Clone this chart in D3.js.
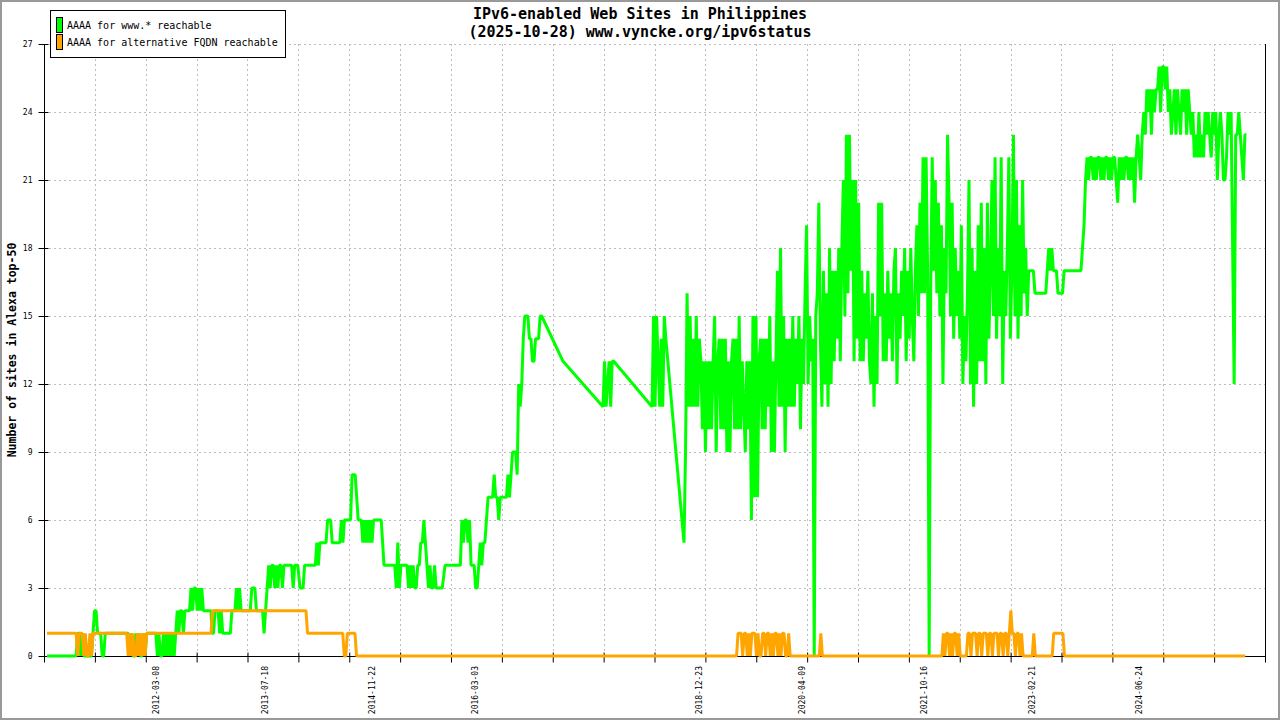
<!DOCTYPE html>
<html><head><meta charset="utf-8">
<script src="https://cdn.jsdelivr.net/npm/d3@7"></script>
<style>body{margin:0;background:#fff}svg{display:block}</style>
</head><body>
<svg id="chart" width="1280" height="720"></svg>
<script>
// ---------------- data ----------------
const titleLines = ["IPv6-enabled Web Sites in Philippines", "(2025-10-28) www.vyncke.org/ipv6status"];
const yAxisTitle = "Number of sites in Alexa top-50";
const seriesNames = ["AAAA for www.* reachable", "AAAA for alternative FQDN reachable"];
const seriesColors = ["#00ff00", "#ffa500"];
const yTicks = [0, 3, 6, 9, 12, 15, 18, 21, 24, 27];
const xDateLabels = ["2012-03-08", "2013-07-18", "2014-11-22", "2016-03-03", "2018-12-23", "2020-04-09", "2021-10-16", "2023-02-21", "2024-06-24"];
const xDomain = [2010.782, 2026.054];   // decimal years
const xTickCount = 25;
const weekStep = 7 / 365.25;            // samples read at weekly spacing

// green: AAAA for www.* reachable  (start = decimal year, values weekly, "v*n" = n weeks at v)
const greenSegments = [
  {start: 2010.820, values: `0*20,1,1,0,1,0,0,0,0,0,0,1,2,2,1,1,1,0,0,1*16,0,1,0,0,1,0,1,0,0,1,0,1,1*6,
    0,1,0,0,1,0,1,0,1,0,1,0,1,2,1,2,2,1,2,2*3,3,2,3,3,2,3,2,3,2*6`},
  {start: 2012.883, values: `1*2,2*3,1,2,1,1*5,2*3,3,2,3,2*7,3*3,2*5,1,2,3,4,3,4,4,3,4,3,4,4,3,4,4,4,4,4,4,3,4,4,4`},
  {start: 2013.984, values: `3*3,4*8,5,4,5,5,5*3,6*3,5,5,5,5,5,5,6,5,6*5,8*3,7,6*3,5,6,5,6,5,6,5,6*6`},
  {start: 2015.035, values: `4*8,3,5,3,4*5,3,4,3,4,3,3,4,4,5,5,6,5,4,3,4,3,3,4,3,3,3*3`},
  {start: 2015.798, values: `4*11,6,5,6,6,5,6,4,4,4,3,3,4,5,4,5,5`},
  {start: 2016.336, values: `7*4,8,7,7,6,7,7*4,8,7,8,9*3,8,12,11,12,14,15*3,14*2,13*2,14*3,15*2`},
  {start: 2017.274, values: `13`},
  {start: 2017.774, values: `11,13,11,12,13,11,13,13`},
  {start: 2018.387, values: `11,15,11,15,13,11,14,11,15,14`},
  {start: 2018.787, values: `5,9,16,
    11,15,11,14,11,15,11,14, 13,10,13, 9,13,10,13,10,13, 15,9,13, 14,10,14,10,14,
    9,13,9,13,14, 10,14,10,15,10, 13,11,9,13,10,13, 6,15,7, 15,7,13,14,
    10,14,10,14,11,15, 9,13,9,13, 17,11,18, 11,15,9,14,11, 14,11,15,11,14,12,15,
    10,14,12, 16,19, 12,15,13, 14,0,15, 16,20,14, 11,17,12,16,11,18,12,17,
    13,17,14,18,13,18, 21,15,23, 16,23,17,21, 13,21,14,20,13, 17,13,16,14,17,13,
    12,16,11,15,12, 20,15,20,13,16, 13,17,14,16,13,17, 18,12,16,
    14,17,15,18,13,17,14,18,15,13,17, 19,15,20,16, 22,16,22,17, 0,16,22,
    17,21,16,20,15,19,12,18,16, 23, 20,15,20,14,18,15,17,14, 19,12,15,13,16,
    21,12,18,11,17,12,19,13, 20,13,18,12,20,14,17,21,
    15,22,14,18,15,22,12,17,15,18,22,14,17, 23,15,21,14,19,15,21,16,18,15,17, 17,17,17`},
  {start: 2023.177, values: `16*8,17,18,17,18,17*3,16*4,17*12,18,19,21,
    22,21,22,22,21,22,21,22,22,21,22,21,22, 22,21,22,21,22,22,21, 20,
    22,21,22,21,22,22,21,22,21,22, 20, 22,23,22,21,23,
    24,23,25,24,25,23,25,24, 25,25, 26,24,26,26,25,26,24,
    25,23,24,25,23,25,24,23,25,24,25,23,25,
    24,23,24,22,23,22,24,22,23,22,24,23,24,23,22,24,23,24,21,23,24,23,21,
    21,22,24,23,24, 18,12,23, 23,24,23,22,21,23,23`}
];

// orange: AAAA for alternative FQDN reachable
const orangeSegments = [
  {start: 2010.820, values: `1*20,0,1*3,0,1,0,0,1,0,1*23,0,1,0,1,0,0,1,0,1,0,1,0,1*43,2*62,1*24,0*2,1*6,0*249,
    1,1,1,0,1,1,0,1,0,1,1,1,0,1,0,0,1,1,0,1,1,0,1,0,1,1,0,1,0,1,1,0,0,1,
    0*20,1,0*79, 1,0,1,1,0,1,0,1,1,0,1,0, 0*4,
    1,1,0,1,1,1,0,1,1,0,1,1,1,0,1,1,0,1,1,1,0,1,1,0,1,1,0,1, 2,1, 1,0,1,1,0,1,0,
    0*6,1,0*12,1*7,0*119`}
];

// ---------------- helpers ----------------
function expand(segs) {
  const pts = [];
  segs.forEach(s => {
    let i = 0;
    s.values.split(",").map(t => t.trim()).filter(t => t.length).forEach(tok => {
      const [v, n] = tok.split("*");
      const c = n ? +n : 1;
      for (let k = 0; k < c; k++) { pts.push([s.start + i * weekStep, +v]); i++; }
    });
  });
  return pts;
}
function decYear(str) {
  const d = new Date(str + "T00:00:00Z");
  const y = d.getUTCFullYear();
  const s = Date.UTC(y, 0, 1), e = Date.UTC(y + 1, 0, 1);
  return y + (d - s) / (e - s);
}

const greenData = expand(greenSegments);
const orangeData = expand(orangeSegments);

// ---------------- drawing ----------------
const svg = d3.select("#chart");
const L = 44, R = 1265, T = 44, B = 656;
const x = d3.scaleLinear().domain(xDomain).range([L, R]);
const y = d3.scaleLinear().domain([0, 27]).range([B, T]);
const xTicks = d3.range(xTickCount).map(i => xDomain[0] + i * (xDomain[1] - xDomain[0]) / (xTickCount - 1));
const mono = "'DejaVu Sans Mono', 'Liberation Mono', monospace";

svg.append("rect").attr("width", 1280).attr("height", 720).attr("fill", "#fff");

// grid
const grid = svg.append("g").attr("stroke", "#bdbdbd").attr("stroke-width", 1).attr("stroke-dasharray", "2,3");
grid.selectAll(".hg").data(yTicks.filter(t => t > 0)).join("line")
  .attr("x1", L).attr("x2", R).attr("y1", d => Math.round(y(d)) + 0.5).attr("y2", d => Math.round(y(d)) + 0.5);
grid.selectAll(".vg").data(xTicks.slice(1, -1)).join("line")
  .attr("x1", d => Math.round(x(d)) + 0.5).attr("x2", d => Math.round(x(d)) + 0.5).attr("y1", T).attr("y2", B);

// axes
const yAxis = svg.append("g").attr("transform", `translate(${L + 0.5},0)`)
  .call(d3.axisLeft(y).tickValues(yTicks).tickSizeInner(6).tickSizeOuter(0).tickPadding(6));
yAxis.select(".domain").attr("d", `M0,${T}V${B + 6}`).attr("stroke", "#000");
yAxis.selectAll(".tick line").attr("x1", 4).attr("stroke", "#000");
yAxis.selectAll(".tick text").attr("font-family", mono).attr("font-size", 8).attr("fill", "#000");

const xAxis = svg.append("g").attr("transform", `translate(0,${B + 0.5})`)
  .call(d3.axisBottom(x).tickValues(xTicks).tickSizeInner(6).tickSizeOuter(0).tickFormat(""));
xAxis.select(".domain").attr("d", `M${L},0H${R}`).attr("stroke", "#000");
xAxis.selectAll(".tick line").attr("y1", -4).attr("stroke", "#000");

svg.append("line").attr("x1", R + 0.5).attr("x2", R + 0.5).attr("y1", T).attr("y2", B + 6).attr("stroke", "#000");

// date labels
svg.append("g").selectAll("text").data(xDateLabels).join("text")
  .attr("transform", d => `translate(${x(decYear(d))},666) rotate(-90)`)
  .attr("text-anchor", "end").attr("dy", "0.35em")
  .attr("font-family", mono).attr("font-size", 8).attr("fill", "#000")
  .text(d => d);

// series
const line = d3.line().x(d => x(d[0])).y(d => y(d[1]));
svg.append("path").datum(greenData).attr("d", line)
  .attr("fill", "none").attr("stroke", seriesColors[0]).attr("stroke-width", 3).attr("stroke-linejoin", "bevel");
svg.append("path").datum(orangeData).attr("d", line)
  .attr("fill", "none").attr("stroke", seriesColors[1]).attr("stroke-width", 3).attr("stroke-linejoin", "bevel");

// titles
svg.append("g").selectAll("text").data(titleLines).join("text")
  .attr("x", 640).attr("y", (d, i) => 19 + i * 18).attr("text-anchor", "middle")
  .attr("font-family", mono).attr("font-size", 15).attr("font-weight", "bold").attr("fill", "#000")
  .text(d => d);

svg.append("text").attr("transform", "translate(16,350) rotate(-90)")
  .attr("text-anchor", "middle").attr("font-family", mono).attr("font-size", 11.5).attr("font-weight", "bold")
  .attr("fill", "#000").text(yAxisTitle);

// legend
const lg = svg.append("g");
lg.append("rect").attr("x", 50.5).attr("y", 10.5).attr("width", 235).attr("height", 47)
  .attr("fill", "#fff").attr("stroke", "#000");
seriesNames.forEach((name, i) => {
  lg.append("rect").attr("x", 56.5).attr("y", 17.5 + i * 17).attr("width", 6).attr("height", 15)
    .attr("fill", seriesColors[i]).attr("stroke", "#000");
  lg.append("text").attr("x", 67).attr("y", 29 + i * 17.3).attr("font-family", mono).attr("font-size", 10)
    .attr("fill", "#000").text(name);
});

// outer frame
svg.append("rect").attr("x", 1).attr("y", 1).attr("width", 1278).attr("height", 718)
  .attr("fill", "none").attr("stroke", "#999").attr("stroke-width", 2);
</script>
</body></html>
